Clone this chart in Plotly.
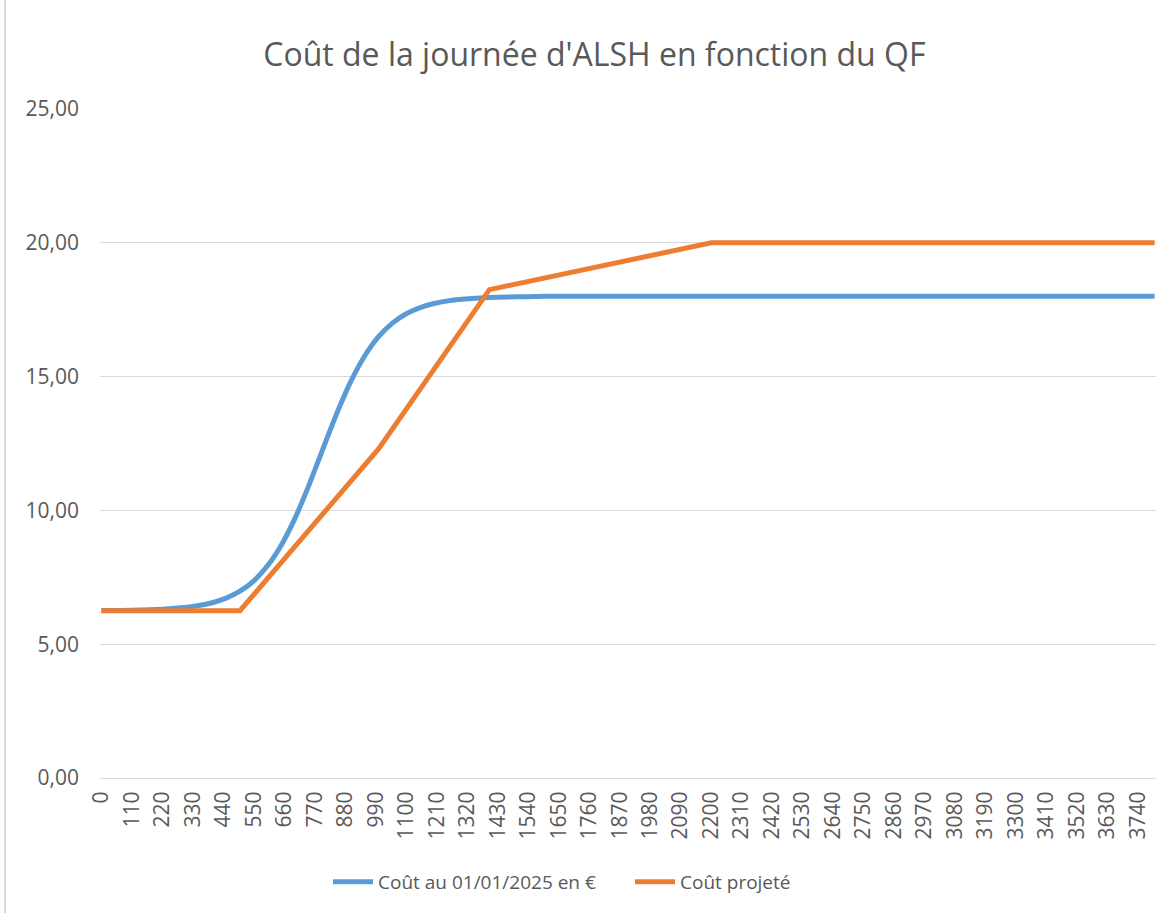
import plotly.graph_objects as go

# Quotient familial (QF) sample points and costs
qf_actuel = [0, 110, 220, 330, 400, 450, 500, 550, 600, 650, 700, 750, 800, 850, 900,
             950, 1000, 1050, 1100, 1150, 1200, 1250, 1300, 1400, 1500, 1600, 2000,
             3000, 3800]
cout_actuel = [6.26, 6.27, 6.31, 6.41, 6.55, 6.72, 6.98, 7.37, 7.94, 8.72, 9.74, 10.97,
               12.32, 13.64, 14.82, 15.77, 16.49, 17.00, 17.35, 17.58, 17.73, 17.83,
               17.89, 17.96, 17.98, 18.00, 18.00, 18.00, 18.00]

qf_projete = [0, 500, 1000, 1400, 2200, 3800]
cout_projete = [6.25, 6.25, 12.30, 18.25, 20.00, 20.00]

x_tick_labels = [0, 110, 220, 330, 440, 550, 660, 770, 880, 990, 1100, 1210, 1320,
                 1430, 1540, 1650, 1760, 1870, 1980, 2090, 2200, 2310, 2420, 2530,
                 2640, 2750, 2860, 2970, 3080, 3190, 3300, 3410, 3520, 3630, 3740]
y_tick_values = [0, 5, 10, 15, 20, 25]

TEXT = "#595959"
GRID = "#d9d9d9"
FONT = "Open Sans"

W, H = 1170, 913
L, T = 100, 109
PW, PH = 1056, 669

fig = go.Figure()
fig.add_trace(go.Scatter(
    x=qf_actuel, y=cout_actuel, mode="lines", name="Coût au 01/01/2025 en €",
    line=dict(color="#5B9BD5", width=5, shape="spline", smoothing=0.8),
))
fig.add_trace(go.Scatter(
    x=qf_projete, y=cout_projete, mode="lines", name="Coût projeté",
    line=dict(color="#ED7D31", width=5),
))

fig.update_layout(
    width=W, height=H,
    margin=dict(l=L, r=W - L - PW, t=T, b=H - T - PH, autoexpand=False),
    paper_bgcolor="white", plot_bgcolor="white",
    separators=", ",
    title=dict(text="Coût de la journée d'ALSH en fonction du QF",
               x=0.508, xanchor="center", y=1 - 55 / H, yanchor="middle",
               font=dict(family=FONT, size=32, color=TEXT)),
    font=dict(family=FONT, size=19, color=TEXT),
    showlegend=True,
    legend=dict(orientation="h", x=(328 - L) / PW, xanchor="left",
                y=(T + PH - 882) / PH, yanchor="middle",
                font=dict(family=FONT, size=19, color=TEXT),
                itemwidth=40, tracegroupgap=0,
                entrywidth=247, entrywidthmode="pixels"),
    xaxis=dict(range=[-5, 3805], tickmode="array", tickvals=x_tick_labels,
               ticktext=[str(v) for v in x_tick_labels], tickangle=-90,
               showgrid=False, zeroline=False, showline=True, linecolor=GRID,
               linewidth=1, ticks="", tickfont=dict(family=FONT, size=21, color=TEXT),
               ticklabelstandoff=4),
    yaxis=dict(range=[0, 25], tickmode="array", tickvals=y_tick_values,
               tickformat=".2f", showgrid=True, gridcolor=GRID, gridwidth=1,
               zeroline=False, showline=False, ticks="",
               tickfont=dict(family=FONT, size=21, color=TEXT),
               ticklabelstandoff=20),
    shapes=[dict(type="line", xref="paper", yref="paper",
                 x0=(5 - L) / PW, x1=(5 - L) / PW,
                 y0=(T + PH + 10) / PH, y1=(T + PH - H - 10) / PH,
                 line=dict(color=GRID, width=2))],
)

fig.write_html("out.html", config={"displayModeBar": False},
               post_script="document.body.style.margin='0';")
